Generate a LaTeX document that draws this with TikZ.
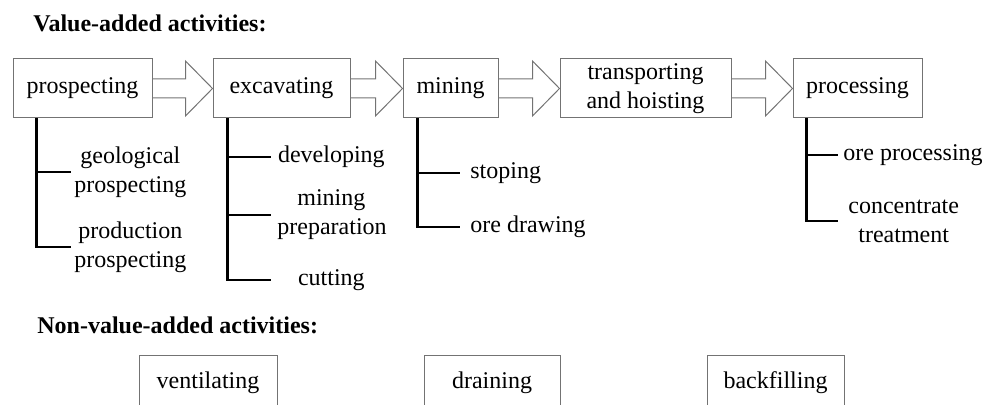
\documentclass[tikz,border=0pt]{standalone}
\usepackage{fontspec}
\setmainfont{Liberation Serif}
\usetikzlibrary{positioning,calc}

\tikzset{
  stage/.style={draw=black!55, line width=0.5pt, minimum height=29.5pt, inner sep=1pt, align=center},
  item/.style={anchor=west, align=center, inner xsep=1.5pt, inner ysep=1pt},
  tree/.style={line width=1.2pt},
  flow/.style={draw=black!55, line width=0.5pt, line join=miter},
  heading/.style={anchor=west, inner xsep=0pt, font=\fontsize{12}{14.5}\selectfont\bfseries},
}

% hollow block arrow from box #1 to box #2
\newcommand{\blockarrow}[2]{%
  \draw[flow] ($(#1.east)+(0,-\sh)$) -- ($(#2.west)+(-\hl,-\sh)$) -- ($(#2.west)+(-\hl,-\hh)$)
    -- (#2.west) -- ($(#2.west)+(-\hl,\hh)$) -- ($(#2.west)+(-\hl,\sh)$) -- ($(#1.east)+(0,\sh)$);}

\begin{document}
\begin{tikzpicture}[x=0.5pt, y=-0.5pt, font=\fontsize{12}{14.5}\selectfont]
  \pgfmathsetmacro {\sh}{9.5}   %half height of arrow shaft
  \pgfmathsetmacro {\hh}{27.5}  %half height of arrow head
  \pgfmathsetmacro {\hl}{27}    %length of arrow head
  \pgfmathsetmacro {\by}{88.5}  %centre line of the stages

  \useasboundingbox (0,0) rectangle (985,405);
  \clip (0,0) rectangle (985,405);

  \node[heading] (va) at (33,23) {Value-added activities:};

  %Stages of the chain
  \node[stage, minimum width=69.5pt] (pros)  at (82.5,\by)  {prospecting};
  \node[stage, minimum width=68.5pt] (exc)   at (281.5,\by) {excavating};
  \node[stage, minimum width=47.5pt] (mine)  at (450.5,\by) {mining};
  \node[stage, minimum width=85.5pt] (trans) at (645.5,\by) {transporting\\and hoisting};
  \node[stage, minimum width=64.5pt] (proc)  at (857.5,\by) {processing};

  \blockarrow{pros}{exc}
  \blockarrow{exc}{mine}
  \blockarrow{mine}{trans}
  \blockarrow{trans}{proc}

  %Sub-activities of prospecting
  \node[item] (geo)  at (71,172) {geological\\prospecting};
  \node[item] (prod) at (71,247) {production\\prospecting};
  \draw[tree] ([xshift=12pt]pros.south west) |- (geo.west)
              ([xshift=12pt]pros.south west) |- (prod.west);

  %Sub-activities of excavating
  \node[item, text width=54pt, inner xsep=3pt] (dev)  at (271,157) {developing};
  \node[item, text width=54pt, inner xsep=3pt] (prep) at (271,215) {mining\\preparation};
  \node[item, text width=54pt, inner xsep=3pt] (cut)  at (271,280) {cutting};
  \draw[tree] ([xshift=7.5pt]exc.south west) |- (dev.west)
              ([xshift=7.5pt]exc.south west) |- (prep.west)
              ([xshift=7.5pt]exc.south west) |- (cut.west);

  %Sub-activities of mining
  \node[item, inner xsep=5pt] (stope) at (460,173) {stoping};
  \node[item, inner xsep=5pt] (draw)  at (460,227) {ore drawing};
  \draw[tree] ([xshift=7.5pt]mine.south west) |- (stope.west)
              ([xshift=7.5pt]mine.south west) |- (draw.west);

  %Sub-activities of processing
  \node[item, inner xsep=2.5pt] (orep) at (838,155) {ore processing};
  \node[item, inner xsep=5pt]   (conc) at (838,221) {concentrate\\treatment};
  \draw[tree] ([xshift=7pt]proc.south west) |- (orep.west)
              ([xshift=7pt]proc.south west) |- (conc.west);

  %Non-value-added activities
  \node[heading] (nva) at (37,325) {Non-value-added activities:};
  \node[stage, minimum width=69pt, minimum height=27pt]   (vent)  at (208,383)   {ventilating};
  \node[stage, minimum width=68pt, minimum height=27pt]   (drain) at (492,383)   {draining};
  \node[stage, minimum width=68.5pt, minimum height=27pt] (back)  at (775.5,383) {backfilling};
\end{tikzpicture}
\end{document}
